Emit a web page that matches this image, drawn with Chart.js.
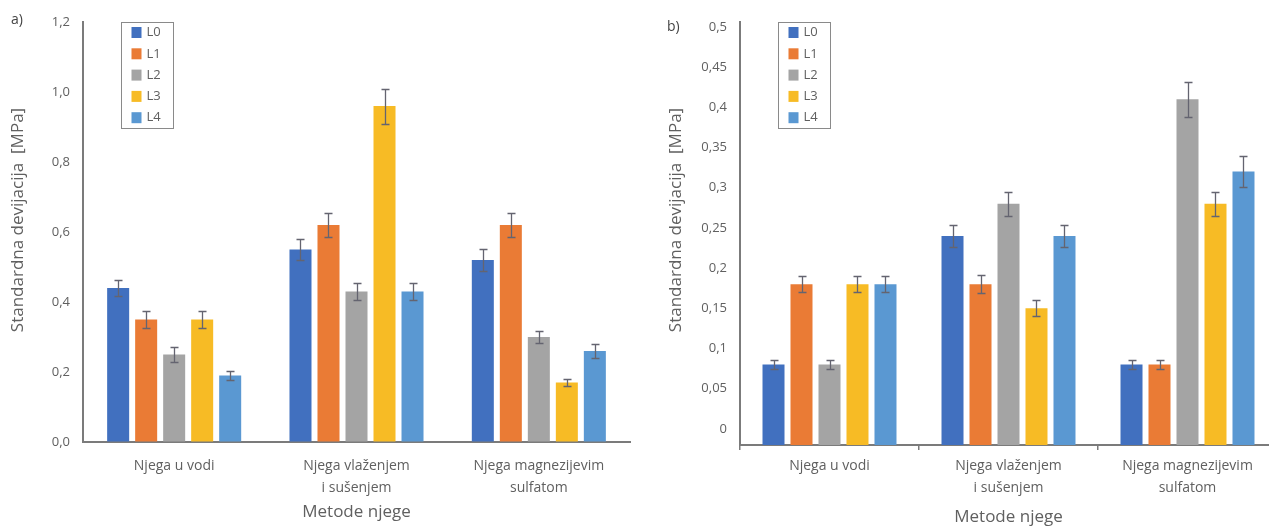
<!DOCTYPE html>
<html>
<head>
<meta charset="utf-8">
<script src="https://cdn.jsdelivr.net/npm/chart.js@4/dist/chart.umd.min.js"></script>
<style>
  html, body { margin: 0; padding: 0; background: #fff; overflow: hidden; width: 1269px; height: 527px; }
  canvas { position: absolute; top: 0; }
  #chartA { left: 0; }
  #chartB { left: 640px; }
</style>
</head>
<body>
<canvas id="chartA" width="640" height="527"></canvas>
<canvas id="chartB" width="660" height="527"></canvas>
<script>
// Curing methods (categories) and specimen series
const categories = ['Njega u vodi', ['Njega vlaženjem', 'i sušenjem'], ['Njega magnezijevim', 'sulfatom']];
const seriesNames = ['L0', 'L1', 'L2', 'L3', 'L4'];
const seriesColors = ['#4170bf', '#ea7b35', '#a4a4a4', '#f7bb25', '#5a98d2'];

// Panel a) standard deviation [MPa]
const valuesA_L0 = [0.44, 0.55, 0.52];
const valuesA_L1 = [0.35, 0.62, 0.62];
const valuesA_L2 = [0.25, 0.43, 0.30];
const valuesA_L3 = [0.35, 0.96, 0.17];
const valuesA_L4 = [0.19, 0.43, 0.26];
const errA_L0 = [0.023, 0.030, 0.030];
const errA_L1 = [0.023, 0.035, 0.035];
const errA_L2 = [0.020, 0.025, 0.018];
const errA_L3 = [0.023, 0.050, 0.010];
const errA_L4 = [0.012, 0.025, 0.020];
const yTicksA = [0, 0.2, 0.4, 0.6, 0.8, 1.0, 1.2];
const yTickLabelsA = ['0,0', '0,2', '0,4', '0,6', '0,8', '1,0', '1,2'];

// Panel b) standard deviation [MPa]
const valuesB_L0 = [0.08, 0.24, 0.08];
const valuesB_L1 = [0.18, 0.18, 0.08];
const valuesB_L2 = [0.08, 0.28, 0.41];
const valuesB_L3 = [0.18, 0.15, 0.28];
const valuesB_L4 = [0.18, 0.24, 0.32];
const errB_L0 = [0.006, 0.014, 0.006];
const errB_L1 = [0.010, 0.011, 0.006];
const errB_L2 = [0.006, 0.015, 0.022];
const errB_L3 = [0.010, 0.010, 0.015];
const errB_L4 = [0.010, 0.014, 0.019];
const yTicksB = [0, 0.05, 0.1, 0.15, 0.2, 0.25, 0.3, 0.35, 0.4, 0.45, 0.5];
const yTickLabelsB = ['0', '0,05', '0,1', '0,15', '0,2', '0,25', '0,3', '0,35', '0,4', '0,45', '0,5'];

const yTitle = 'Standardna devijacija  [MPa]';
const xTitle = 'Metode njege';

const FONT = "'Open Sans', 'Noto Sans', sans-serif";
const TEXT = '#606060';
const AXIS = '#7b7b7b';

// Error bars drawn on top of each bar, from the dataset's errors array
const errorBars = {
  id: 'errorBars',
  afterDatasetsDraw(chart) {
    const ctx = chart.ctx;
    const y = chart.scales.y;
    ctx.save();
    ctx.strokeStyle = '#646470';
    ctx.lineWidth = 1.3;
    chart.data.datasets.forEach((ds, i) => {
      const meta = chart.getDatasetMeta(i);
      meta.data.forEach((bar, j) => {
        const v = ds.data[j], e = ds.errors[j];
        const yt = Math.round(y.getPixelForValue(v + e)) + 0.5;
        const yb = Math.round(y.getPixelForValue(v - e)) + 0.5;
        const x = Math.round(bar.x) + 0.5;
        ctx.beginPath();
        ctx.moveTo(x, yt); ctx.lineTo(x, yb);
        ctx.moveTo(x - 4, yt); ctx.lineTo(x + 4, yt);
        ctx.moveTo(x - 4, yb); ctx.lineTo(x + 4, yb);
        ctx.stroke();
      });
    });
    ctx.restore();
  }
};

// Boxed legend in the upper-left corner of the plot, plus panel letter and y title
const decorations = {
  id: 'decorations',
  afterDraw(chart, args, opts) {
    const ctx = chart.ctx;
    const area = chart.chartArea;
    ctx.save();
    // legend box
    const bx = area.left + 38.5, by = 22.5, bw = 52, bh = 106;
    ctx.strokeStyle = '#8a8a8a';
    ctx.lineWidth = 1;
    ctx.strokeRect(bx, by, bw, bh);
    ctx.font = '13px ' + FONT;
    ctx.textBaseline = 'middle';
    ctx.textAlign = 'left';
    chart.data.datasets.forEach((ds, i) => {
      const cy = by + 10 + i * 21.3;
      ctx.fillStyle = ds.backgroundColor;
      ctx.fillRect(bx + 10, cy - 5.5, 10, 11);
      ctx.fillStyle = TEXT;
      ctx.fillText(ds.label, bx + 25, cy);
    });
    // panel letter
    ctx.font = '14px ' + FONT;
    ctx.fillStyle = '#444';
    ctx.fillText(opts.letter, opts.letterX, opts.letterY);
    // y axis title
    ctx.translate(opts.titleX, opts.titleY);
    ctx.rotate(-Math.PI / 2);
    ctx.textAlign = 'center';
    ctx.font = '17px ' + FONT;
    ctx.fillStyle = TEXT;
    ctx.fillText(yTitle, 0, 0);
    ctx.restore();
  }
};

function makeDatasets(values, errors, base) {
  return seriesNames.map((name, i) => {
    const ds = {
      label: name,
      data: values[i],
      errors: errors[i],
      backgroundColor: seriesColors[i],
      borderWidth: 0
    };
    if (base !== undefined) ds.base = base;
    return ds;
  });
}

Chart.defaults.font.family = FONT;
Chart.defaults.color = TEXT;

// Panel a)
new Chart(document.getElementById('chartA'), {
  type: 'bar',
  data: {
    labels: categories,
    datasets: makeDatasets(
      [valuesA_L0, valuesA_L1, valuesA_L2, valuesA_L3, valuesA_L4],
      [errA_L0, errA_L1, errA_L2, errA_L3, errA_L4])
  },
  plugins: [errorBars, decorations],
  options: {
    responsive: false,
    animation: false,
    devicePixelRatio: 1,
    categoryPercentage: 0.768,
    barPercentage: 0.786,
    layout: { padding: { left: 0, right: 10, top: 22, bottom: 0 } },
    plugins: {
      legend: { display: false },
      tooltip: { enabled: false },
      decorations: { letter: 'a)', letterX: 11, letterY: 20, titleX: 18, titleY: 220 }
    },
    scales: {
      x: {
        afterFit(s) { s.height = 85; },
        grid: { display: true, drawOnChartArea: false, drawTicks: false },
        border: { display: true, color: AXIS, width: 2 },
        ticks: { font: { size: 14, lineHeight: 1.55 }, padding: 13, color: TEXT, maxRotation: 0 },
        title: { display: true, text: xTitle, font: { size: 17 }, color: TEXT, padding: { top: 0, bottom: 4.8 } }
      },
      y: {
        min: 0, max: 1.2,
        afterFit(s) { s.width = 83; },
        afterBuildTicks(s) { s.ticks = yTicksA.map(v => ({ value: v })); },
        grid: { display: true, drawOnChartArea: false, drawTicks: false },
        border: { display: true, color: AXIS, width: 2 },
        ticks: {
          font: { size: 13 }, padding: 13, color: TEXT,
          callback: (v, i) => yTickLabelsA[i]
        }
      }
    }
  }
});

// Panel b): bars rise from the bottom of the value axis
const yMinB = -0.02;
const yMaxB = 0.506;
new Chart(document.getElementById('chartB'), {
  type: 'bar',
  data: {
    labels: categories,
    datasets: makeDatasets(
      [valuesB_L0, valuesB_L1, valuesB_L2, valuesB_L3, valuesB_L4],
      [errB_L0, errB_L1, errB_L2, errB_L3, errB_L4], yMinB)
  },
  plugins: [errorBars, decorations],
  options: {
    responsive: false,
    animation: false,
    devicePixelRatio: 1,
    categoryPercentage: 0.782,
    barPercentage: 0.786,
    layout: { padding: { left: 0, right: 23, top: 22, bottom: 0 } },
    plugins: {
      legend: { display: false },
      tooltip: { enabled: false },
      decorations: { letter: 'b)', letterX: 27, letterY: 27, titleX: 36, titleY: 220 }
    },
    scales: {
      x: {
        afterFit(s) { s.height = 82; },
        grid: { display: true, drawOnChartArea: false, drawTicks: true, tickLength: 5, color: AXIS, lineWidth: 1.5, offset: true },
        border: { display: true, color: AXIS, width: 2 },
        ticks: { font: { size: 14, lineHeight: 1.55 }, padding: 5, color: TEXT, maxRotation: 0 },
        title: { display: true, text: xTitle, font: { size: 17 }, color: TEXT, padding: { top: 0, bottom: 0 } }
      },
      y: {
        min: yMinB, max: yMaxB,
        afterFit(s) { s.width = 100; },
        afterBuildTicks(s) { s.ticks = yTicksB.map(v => ({ value: v })); },
        grid: { display: true, drawOnChartArea: false, drawTicks: false },
        border: { display: true, color: AXIS, width: 2 },
        ticks: {
          font: { size: 13 }, padding: 13, color: TEXT,
          callback: (v, i) => yTickLabelsB[i]
        }
      }
    }
  }
});
</script>
</body>
</html>
